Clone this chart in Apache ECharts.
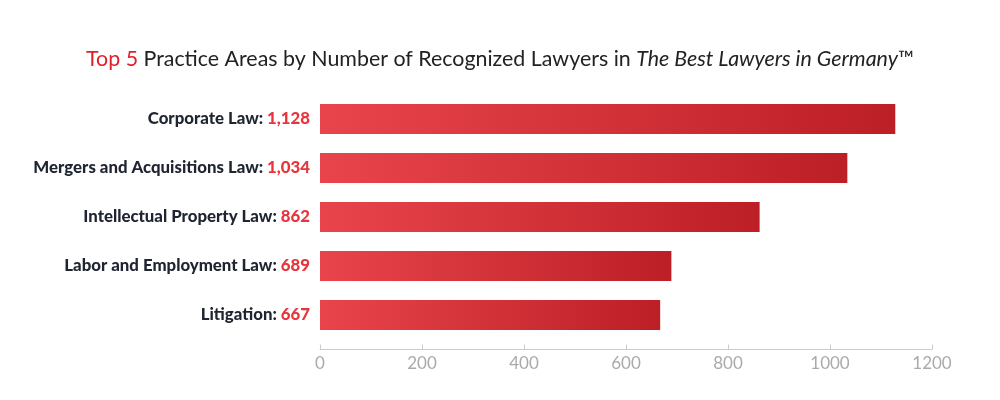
<!DOCTYPE html>
<html><head><meta charset="utf-8">
<script src="https://cdn.jsdelivr.net/npm/echarts@6/dist/echarts.min.js"></script>
<style>html,body{margin:0;background:#fff}#c{width:1000px;height:400px}</style>
</head><body><div id="c"></div>
<script>
const categories = ["Corporate Law","Mergers and Acquisitions Law","Intellectual Property Law","Labor and Employment Law","Litigation"];
const values = [1128,1034,862,689,667];
const valueLabels = ["1,128","1,034","862","689","667"];
const chart = echarts.init(document.getElementById('c'));
const F = 'Lato, "Open Sans", sans-serif';
chart.setOption({
  animation:false,
  title:{left:'center',top:44,text:'{r|Top 5} Practice Areas by Number of Recognized Lawyers in {i|The Best Lawyers in Germany}™',
    textStyle:{fontFamily:F,fontSize:21.4,fontWeight:'normal',color:'#222',rich:{r:{color:'#e0202b',fontSize:21.4,fontFamily:F},i:{fontStyle:'italic',fontSize:21.4,fontFamily:F,color:'#222'}}}},
  grid:{left:320,right:68,top:94.5,bottom:60.5},
  xAxis:{type:'value',min:0,max:1200,interval:200,offset:10,
    axisLine:{show:true,lineStyle:{color:'#ccc'}},axisTick:{show:true,inside:true,length:5,lineStyle:{color:'#ccc'}},
    splitLine:{show:false},axisLabel:{color:'#aaa',fontSize:17,fontFamily:F,margin:6,formatter:v=>String(v)}},
  yAxis:{type:'category',inverse:true,data:categories,axisLine:{show:false},axisTick:{show:false},
    axisLabel:{margin:10,formatter:(v,i)=>'{n|'+v+': }{v|'+valueLabels[i]+'}',
      rich:{n:{fontFamily:F,fontWeight:900,fontSize:16.8,color:'#1e2430'},v:{fontFamily:F,fontWeight:900,fontSize:16.8,color:'#e8343c'}}}},
  series:[{type:'bar',data:values,barWidth:30,
    itemStyle:{color:new echarts.graphic.LinearGradient(0,0,1,0,[{offset:0,color:'#e8444b'},{offset:1,color:'#bd1f26'}])}}]
});
</script></body></html>
